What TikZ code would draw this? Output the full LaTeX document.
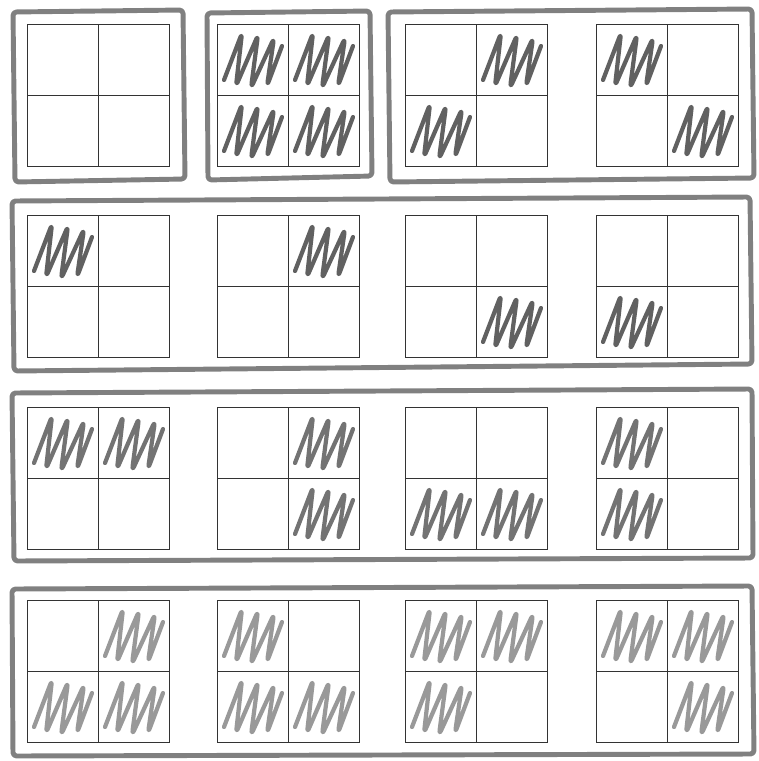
\documentclass[tikz,border=0pt]{standalone}
\begin{document}
\begin{tikzpicture}[x=0.02cm,y=-0.02cm,
  cell/.style={draw=black!80,line width=0.5pt},
  grp/.style={draw=black!50,line width=2.8pt,rounded corners=2pt,line join=round},
  scrib/.style={line width=2.4pt,line join=round,line cap=round,rounded corners=3pt}]
\useasboundingbox (0,0) rectangle (758,761);
% pencil scribbles, one per filled quarter
\foreach \cx/\cy/\shade in {217/24/62,288/24/62,217/95/62,288/95/62,476/24/62,405/95/62,596/24/62,667/95/62,
    27/215/62,288/215/62,476/286/62,596/286/62,
    27/407/55,98/407/55,288/407/55,288/478/55,405/478/55,476/478/55,596/407/55,596/478/55,
    98/600/40,27/671/40,98/671/40,217/600/40,217/671/40,288/671/40,405/600/40,476/600/40,405/671/40,596/600/40,667/600/40,667/671/40}
  \draw[scrib,black!\shade,shift={(\cx,\cy)}] (7,56) -- (25,9) -- (19,62) -- (41,11) -- (34,64) -- (57,14) -- (50,62) -- (65,22);
% the squares
\foreach \sx in {27,217,405,596}
  \foreach \sy in {24,215,407,600} {
    \draw[cell] (\sx,\sy) rectangle ++(142,142);
    \draw[cell] (\sx+71,\sy) -- ++(0,142) (\sx,\sy+71) -- ++(142,0);
  }
% hand drawn groups
\draw[grp] (13,12) -- (183,10) -- (185,179) -- (15,182) -- cycle;
\draw[grp] (207,13) -- (370,11) -- (372,176) -- (208,180) -- cycle;
\draw[grp] (388,12) -- (752,9) -- (754,178) -- (390,182) -- cycle;
\draw[grp] (12,201) -- (750,197) -- (752,364) -- (14,371) -- cycle;
\draw[grp] (12,393) -- (752,389) -- (753,558) -- (14,561) -- cycle;
\draw[grp] (12,589) -- (752,586) -- (754,754) -- (13,756) -- cycle;
\end{tikzpicture}
\end{document}
